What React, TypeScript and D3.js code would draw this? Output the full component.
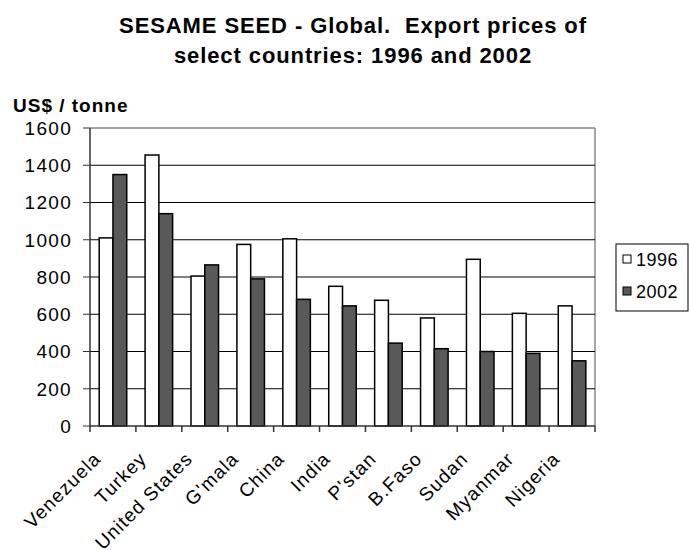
import React from "react";
import * as d3 from "d3";

const categories = ["Venezuela", "Turkey", "United States", "G'mala", "China", "India", "P'stan", "B.Faso", "Sudan", "Myanmar", "Nigeria"];
const values1996 = [1010, 1455, 805, 975, 1005, 750, 675, 580, 895, 605, 645];
const values2002 = [1350, 1140, 865, 790, 680, 645, 445, 415, 400, 390, 350];
const yTicks = [0, 200, 400, 600, 800, 1000, 1200, 1400, 1600];
const seriesNames = ["1996", "2002"];
const titleLines = ["SESAME SEED - Global.\u00a0\u00a0Export prices of", "select countries: 1996 and 2002"];
const yAxisTitle = "US$ / tonne";

const W = 689, H = 550;
const left = 90, right = 595, top = 128, bottom = 426;
const FONT = "'Liberation Sans', Arial, sans-serif";

export default function App() {
  const x = d3.scaleBand<string>().domain(categories).range([left, right]).paddingInner(0).paddingOuter(0);
  const y = d3.scaleLinear().domain([0, 1600]).range([bottom, top]);
  const bw = x.bandwidth();
  const barW = bw * 0.3;
  const gap = (bw - 2 * barW) / 2;
  const series = [values1996, values2002];
  const fills = ["#ffffff", "#595959"];

  return (
    <svg width={W} height={H} style={{ position: "absolute", left: 0, top: 0, background: "#fff" }} fontFamily={FONT}>
      <rect x={0} y={0} width={W} height={H} fill="#fff" />
      {titleLines.map((t, i) => (
        <text key={i} x={353} y={33 + i * 30} textAnchor="middle" fontWeight="bold" fontSize={22} letterSpacing={0.9}>{t}</text>
      ))}
      <text x={13} y={112} fontWeight="bold" fontSize={19} letterSpacing={1}>{yAxisTitle}</text>
      {/* plot border top/right */}
      <line x1={left} x2={right} y1={top} y2={top} stroke="#888" strokeWidth={1.5} />
      <line x1={right} x2={right} y1={top} y2={bottom} stroke="#888" strokeWidth={1.5} />
      {/* gridlines */}
      {yTicks.filter(v => v > 0 && v < 1600).map(v => (
        <line key={v} x1={left} x2={right} y1={y(v)} y2={y(v)} stroke="#000" strokeWidth={1} />
      ))}
      {/* y ticks and labels */}
      {yTicks.map(v => (
        <g key={v}>
          <line x1={left - 7} x2={left} y1={y(v)} y2={y(v)} stroke="#333" strokeWidth={1} />
          <text x={72} y={y(v)} dy="0.36em" textAnchor="end" fontSize={19} letterSpacing={1.3}>{v}</text>
        </g>
      ))}
      {/* bars */}
      {categories.map((c, i) => (
        <g key={c}>
          {series.map((s, j) => (
            <rect key={j} x={(x(c) as number) + gap + j * barW} y={y(s[i])} width={barW} height={bottom - y(s[i])}
              fill={fills[j]} stroke="#000" strokeWidth={1.5} />
          ))}
        </g>
      ))}
      {/* axes */}
      <line x1={left} x2={left} y1={top} y2={bottom} stroke="#333" strokeWidth={1.5} />
      <line x1={left} x2={right} y1={bottom} y2={bottom} stroke="#333" strokeWidth={1.5} />
      {categories.concat(["__end"]).map((c, i) => {
        const xx = i < categories.length ? (x(c) as number) : right;
        return <line key={"t" + i} x1={xx} x2={xx} y1={bottom} y2={bottom + 6} stroke="#333" strokeWidth={1.5} />;
      })}
      {categories.map(c => {
        const cx = (x(c) as number) + bw / 2;
        return (
          <text key={"l" + c} transform={`translate(${cx - 11},${bottom + 34}) rotate(-45)`} textAnchor="end" fontSize={19} letterSpacing={1.1}>{c}</text>
        );
      })}
      {/* legend */}
      <rect x={616} y={244} width={72} height={67} fill="#fff" stroke="#000" strokeWidth={1} />
      {seriesNames.map((n, j) => (
        <g key={n}>
          <rect x={623} y={255 + j * 32} width={8} height={8} fill={fills[j]} stroke="#000" strokeWidth={1} />
          <text x={636} y={260 + j * 32} dy="0.36em" fontSize={18} letterSpacing={0.5}>{n}</text>
        </g>
      ))}
    </svg>
  );
}
